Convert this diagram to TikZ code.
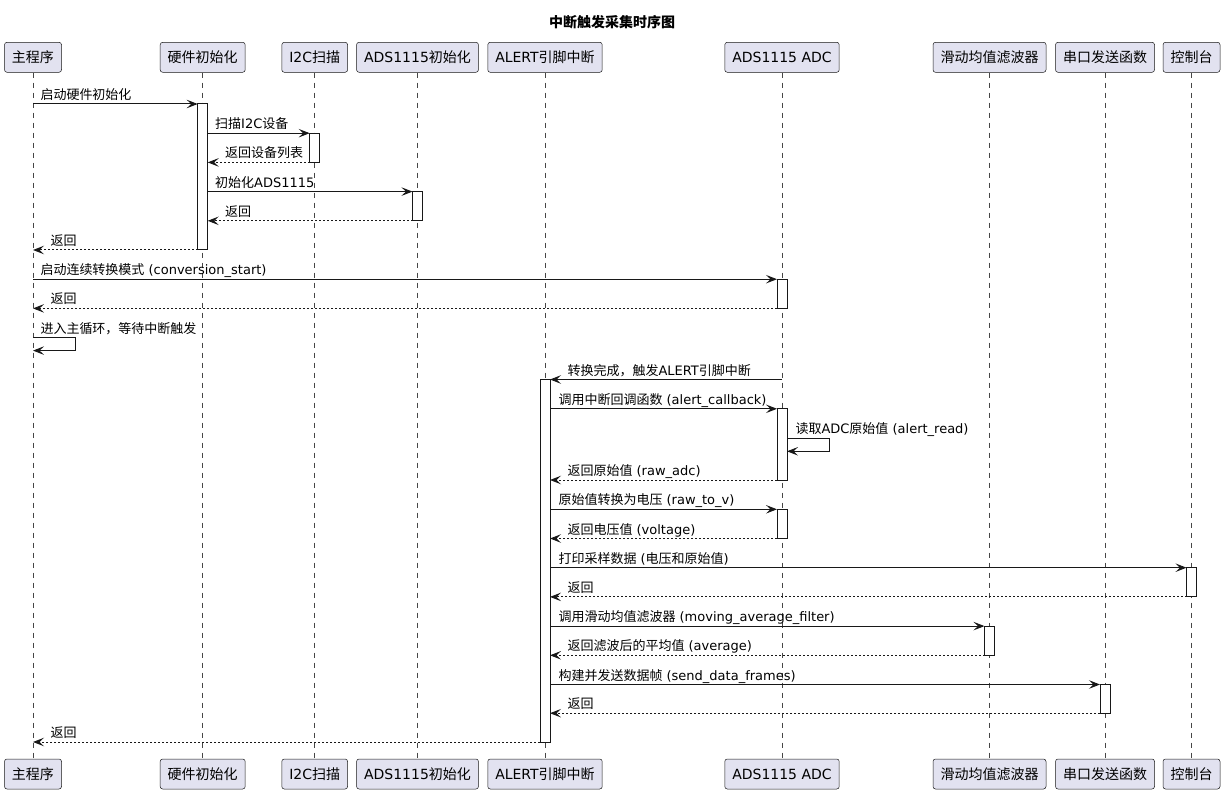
\documentclass[tikz,border=0pt]{standalone}
\usepackage{fontspec}
\setmainfont{DejaVu Sans}
\newfontfamily\lat{DejaVu Sans}
\newfontfamily\cjk{Noto Sans CJK SC}
\usetikzlibrary{arrows.meta}
% switch to the CJK font for Chinese characters
\XeTeXinterchartokenstate=1
\newXeTeXintercharclass\cjkcls
\count255="4E00
\loop
  \XeTeXcharclass\count255=\cjkcls
  \ifnum\count255<"9FFF \advance\count255 by 1
\repeat
\XeTeXcharclass"FF0C=\cjkcls
\XeTeXinterchartoks 0 \cjkcls={\cjk}
\XeTeXinterchartoks 4095 \cjkcls={\cjk}
\XeTeXinterchartoks \cjkcls 0={\lat}
\XeTeXinterchartoks \cjkcls 4095={\lat}
\XeTeXinterchartoks 4095 0={\lat}
\definecolor{lineclr}{HTML}{181818}
\definecolor{boxfill}{HTML}{E2E2F0}
\tikzset{
	part/.style={draw=lineclr, fill=boxfill, line width=0.5pt, rounded corners=2.5pt, minimum height=30pt, inner xsep=7.5pt, inner ysep=0pt, font=\fontsize{14}{16}\selectfont},
	life/.style={draw=lineclr!80, line width=0.5pt, dash pattern=on 5pt off 5pt},
	act/.style={draw=lineclr, fill=white, line width=1pt},
	call/.style={draw=lineclr, line width=1pt, -{Stealth[length=11pt,width=8.5pt,inset=4.5pt]}},
	ret/.style={call, dash pattern=on 2pt off 2pt},
	lbl/.style={anchor=base west, inner sep=0pt, yshift=4.5pt, font=\fontsize{13}{15}\selectfont},
	lblcall/.style={lbl, pos=0, xshift=7pt},
	lblret/.style={lbl, pos=1, xshift=17pt},
	lblself/.style={lbl, xshift=8pt}
}

\begin{document}
\begin{tikzpicture}[x=1pt, y=-1pt]
			%%%%% START %%%%%
			\useasboundingbox (0,0) rectangle (1224,794);
			
			\node[font=\fontsize{14}{16}\selectfont\bfseries] (title) at (612,22) {中断触发采集时序图};
			
			% participants
			\node[part] (pMain) at (33,57.3) {主程序};
			\node[part] (pHw) at (202.7,57.3) {硬件初始化};
			\node[part] (pI2c) at (314.7,57.3) {I2C扫描};
			\node[part] (pAdsInit) at (417.5,57.3) {ADS1115初始化};
			\node[part] (pAlert) at (545,57.3) {ALERT引脚中断};
			\node[part] (pAdc) at (782,57.3) {ADS1115 ADC};
			\node[part] (pFilt) at (989.5,57.3) {滑动均值滤波器};
			\node[part] (pUart) at (1105,57.3) {串口发送函数};
			\node[part] (pCon) at (1191.5,57.3) {控制台};
			
			\node[part] (bMain) at (33,774) {主程序};
			\node[part] (bHw) at (202.7,774) {硬件初始化};
			\node[part] (bI2c) at (314.7,774) {I2C扫描};
			\node[part] (bAdsInit) at (417.5,774) {ADS1115初始化};
			\node[part] (bAlert) at (545,774) {ALERT引脚中断};
			\node[part] (bAdc) at (782,774) {ADS1115 ADC};
			\node[part] (bFilt) at (989.5,774) {滑动均值滤波器};
			\node[part] (bUart) at (1105,774) {串口发送函数};
			\node[part] (bCon) at (1191.5,774) {控制台};
			
			% lifelines
			\draw[life] (pMain) -- (bMain);
			\draw[life] (pHw) -- (bHw);
			\draw[life] (pI2c) -- (bI2c);
			\draw[life] (pAdsInit) -- (bAdsInit);
			\draw[life] (pAlert) -- (bAlert);
			\draw[life] (pAdc) -- (bAdc);
			\draw[life] (pFilt) -- (bFilt);
			\draw[life] (pUart) -- (bUart);
			\draw[life] (pCon) -- (bCon);
			
			% activations
			\draw[act] ([xshift=-5pt]pHw |- 0,104) rectangle ([xshift=5pt]pHw |- 0,250);
			\draw[act] ([xshift=-5pt]pI2c |- 0,133.2) rectangle ([xshift=5pt]pI2c |- 0,162.4);
			\draw[act] ([xshift=-5pt]pAdsInit |- 0,191.6) rectangle ([xshift=5pt]pAdsInit |- 0,220.8);
			\draw[act] ([xshift=-5pt]pAdc |- 0,279.2) rectangle ([xshift=5pt]pAdc |- 0,308.4);
			\draw[act] ([xshift=-5pt]pAlert |- 0,379.5) rectangle ([xshift=5pt]pAlert |- 0,742);
			\draw[act] ([xshift=-5pt]pAdc |- 0,408.8) rectangle ([xshift=5pt]pAdc |- 0,480);
			\draw[act] ([xshift=-5pt]pAdc |- 0,509.3) rectangle ([xshift=5pt]pAdc |- 0,538.5);
			\draw[act] ([xshift=-5pt]pCon |- 0,567.7) rectangle ([xshift=5pt]pCon |- 0,596.9);
			\draw[act] ([xshift=-5pt]pFilt |- 0,626.1) rectangle ([xshift=5pt]pFilt |- 0,655.3);
			\draw[act] ([xshift=-5pt]pUart |- 0,684.5) rectangle ([xshift=5pt]pUart |- 0,713.2);
			
			% messages
			\draw[call] (pMain |- 0,104) -- ([xshift=-5pt]pHw |- 0,104) node[lblcall] {启动硬件初始化};
			\draw[call] ([xshift=5pt]pHw |- 0,133.2) -- ([xshift=-5pt]pI2c |- 0,133.2) node[lblcall] {扫描I2C设备};
			\draw[ret] ([xshift=-5pt]pI2c |- 0,162.4) -- ([xshift=5pt]pHw |- 0,162.4) node[lblret] {返回设备列表};
			\draw[call] ([xshift=5pt]pHw |- 0,191.6) -- ([xshift=-5pt]pAdsInit |- 0,191.6) node[lblcall] {初始化ADS1115};
			\draw[ret] ([xshift=-5pt]pAdsInit |- 0,220.8) -- ([xshift=5pt]pHw |- 0,220.8) node[lblret] {返回};
			\draw[ret] ([xshift=-5pt]pHw |- 0,250) -- (pMain |- 0,250) node[lblret] {返回};
			\draw[call] (pMain |- 0,279.2) -- ([xshift=-5pt]pAdc |- 0,279.2) node[lblcall] {启动连续转换模式 (conversion\_start)};
			\draw[ret] ([xshift=-5pt]pAdc |- 0,308.4) -- (pMain |- 0,308.4) node[lblret] {返回};
			\draw[call] (pMain |- 0,337.6) node[lblself, xshift=-1pt] {进入主循环，等待中断触发} -- ++(42,0) |- (pMain |- 0,350.6);
			
			\draw[call] (pAdc |- 0,379.5) -- ([xshift=5pt]pAlert |- 0,379.5) node[lblret] {转换完成，触发ALERT引脚中断};
			\draw[call] ([xshift=5pt]pAlert |- 0,408.8) -- ([xshift=-5pt]pAdc |- 0,408.8) node[lblcall, xshift=1pt] {调用中断回调函数 (alert\_callback)};
			\draw[call] ([xshift=5pt]pAdc |- 0,438.3) node[lblself] {读取ADC原始值 (alert\_read)} -- ++(42,0) |- ([xshift=5pt]pAdc |- 0,451.3);
			\draw[ret] ([xshift=-5pt]pAdc |- 0,480) -- ([xshift=5pt]pAlert |- 0,480) node[lblret] {返回原始值 (raw\_adc)};
			\draw[call] ([xshift=5pt]pAlert |- 0,509.3) -- ([xshift=-5pt]pAdc |- 0,509.3) node[lblcall, xshift=1pt] {原始值转换为电压 (raw\_to\_v)};
			\draw[ret] ([xshift=-5pt]pAdc |- 0,538.5) -- ([xshift=5pt]pAlert |- 0,538.5) node[lblret] {返回电压值 (voltage)};
			\draw[call] ([xshift=5pt]pAlert |- 0,567.7) -- ([xshift=-5pt]pCon |- 0,567.7) node[lblcall, xshift=1pt] {打印采样数据 (电压和原始值)};
			\draw[ret] ([xshift=-5pt]pCon |- 0,596.9) -- ([xshift=5pt]pAlert |- 0,596.9) node[lblret] {返回};
			\draw[call] ([xshift=5pt]pAlert |- 0,626.1) -- ([xshift=-5pt]pFilt |- 0,626.1) node[lblcall, xshift=1pt] {调用滑动均值滤波器 (moving\_average\_filter)};
			\draw[ret] ([xshift=-5pt]pFilt |- 0,655.3) -- ([xshift=5pt]pAlert |- 0,655.3) node[lblret] {返回滤波后的平均值 (average)};
			\draw[call] ([xshift=5pt]pAlert |- 0,684.5) -- ([xshift=-5pt]pUart |- 0,684.5) node[lblcall, xshift=1pt] {构建并发送数据帧 (send\_data\_frames)};
			\draw[ret] ([xshift=-5pt]pUart |- 0,713.2) -- ([xshift=5pt]pAlert |- 0,713.2) node[lblret] {返回};
			\draw[ret] ([xshift=-5pt]pAlert |- 0,742) -- (pMain |- 0,742) node[lblret] {返回};
			
			%%%%% END %%%%%
\end{tikzpicture}
\end{document}
